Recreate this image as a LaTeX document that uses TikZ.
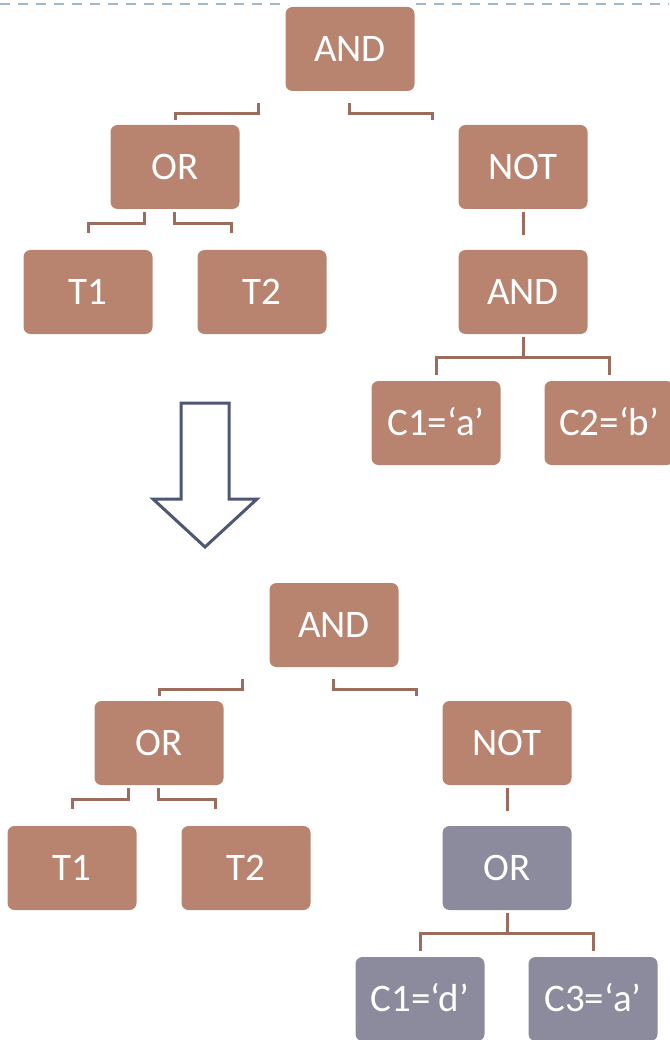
\documentclass[tikz,border=0pt]{standalone}
\usepackage{fontspec}
\setmainfont{Carlito}
\usetikzlibrary{calc}

\definecolor{boxbrown}{RGB}{184,132,112}
\definecolor{boxgrey}{RGB}{140,138,157}
\definecolor{linkbrown}{RGB}{158,108,92}
\definecolor{arrowblue}{RGB}{78,86,117}
\definecolor{rulegrey}{RGB}{160,185,205}

\tikzset{
  op/.style={rectangle, rounded corners=7pt, fill=boxbrown, text=white,
    minimum width=129pt, minimum height=84pt, inner sep=0pt,
    text height=25pt, text depth=0pt, font=\fontsize{39}{41}\selectfont},
  opgrey/.style={op, fill=boxgrey},
  link/.style={draw=linkbrown, line width=3pt},
}

\begin{document}
\begin{tikzpicture}[x=1pt, y=-1pt]
	  \useasboundingbox (0,0) rectangle (669,1040);

	  % page rule
	  \draw [rulegrey, line width=2.5pt, dash pattern=on 10pt off 8pt] (0,4)--(283,4);
	  \draw [rulegrey, line width=2.5pt, dash pattern=on 10pt off 8pt] (416,4)--(669,4);

	  % original query
	  \node [op] (and1) at (350,49) {AND};
	  \node [op] (or1)  at (175,167) {OR};
	  \node [op] (not1) at (523,167) {NOT};
	  \node [op] (t1)   at (88,292) {T1};
	  \node [op] (t2)   at (262,292) {T2};
	  \node [op] (and2) at (523,292) {AND};
	  \node [op] (c1)   at (436,423) {C1=‘a’};
	  \node [op] (c2)   at (609,423) {C2=‘b’};

	  \draw [link] ($(and1.south)+(-92,12)$) -- ++(0,10) -| ($(or1.north)+(0,-5)$);
	  \draw [link] ($(and1.south)+(-1,12)$) -- ++(0,10) -| ($(not1.north)+(-91,-5)$);
	  \draw [link] ($(or1.south)+(-31,3)$) -- ++(0,11) -| ($(t1.north)+(0,-17)$);
	  \draw [link] ($(or1.south)+(-1,3)$) -- ++(0,11) -| ($(t2.north)+(-31,-17)$);
	  \draw [link] ($(not1.south)+(0,3)$) -- ($(and2.north)+(0,-15)$);
	  \draw [link] ($(and2.south)+(0,3)$) -- ++(0,20) coordinate (fork1);
	  \draw [link] ($(c1.north)+(0,-6)$) |- (fork1) -| ($(c2.north)+(0,-6)$);

	  % rewrite step
	  \draw [arrowblue, line width=3pt, fill=white, line join=miter]
	    (181,403)--(229,403)--(229,499)--(257,499)--(205,547)--(153,499)--(181,499)--cycle;

	  % rewritten query
	  \node [op]     (and3) at (334,625) {AND};
	  \node [op]     (or2)  at (159,743) {OR};
	  \node [op]     (not2) at (507,743) {NOT};
	  \node [op]     (t3)   at (72,868) {T1};
	  \node [op]     (t4)   at (246,868) {T2};
	  \node [opgrey] (or3)  at (507,868) {OR};
	  \node [opgrey] (c3)   at (420,999) {C1=‘d’};
	  \node [opgrey] (c4)   at (593,999) {C3=‘a’};

	  \draw [link] ($(and3.south)+(-92,12)$) -- ++(0,10) -| ($(or2.north)+(0,-5)$);
	  \draw [link] ($(and3.south)+(-1,12)$) -- ++(0,10) -| ($(not2.north)+(-91,-5)$);
	  \draw [link] ($(or2.south)+(-31,3)$) -- ++(0,11) -| ($(t3.north)+(0,-17)$);
	  \draw [link] ($(or2.south)+(-1,3)$) -- ++(0,11) -| ($(t4.north)+(-31,-17)$);
	  \draw [link] ($(not2.south)+(0,3)$) -- ($(or3.north)+(0,-15)$);
	  \draw [link] ($(or3.south)+(0,3)$) -- ++(0,20) coordinate (fork2);
	  \draw [link] ($(c3.north)+(0,-6)$) |- (fork2) -| ($(c4.north)+(0,-6)$);
\end{tikzpicture}
\end{document}
